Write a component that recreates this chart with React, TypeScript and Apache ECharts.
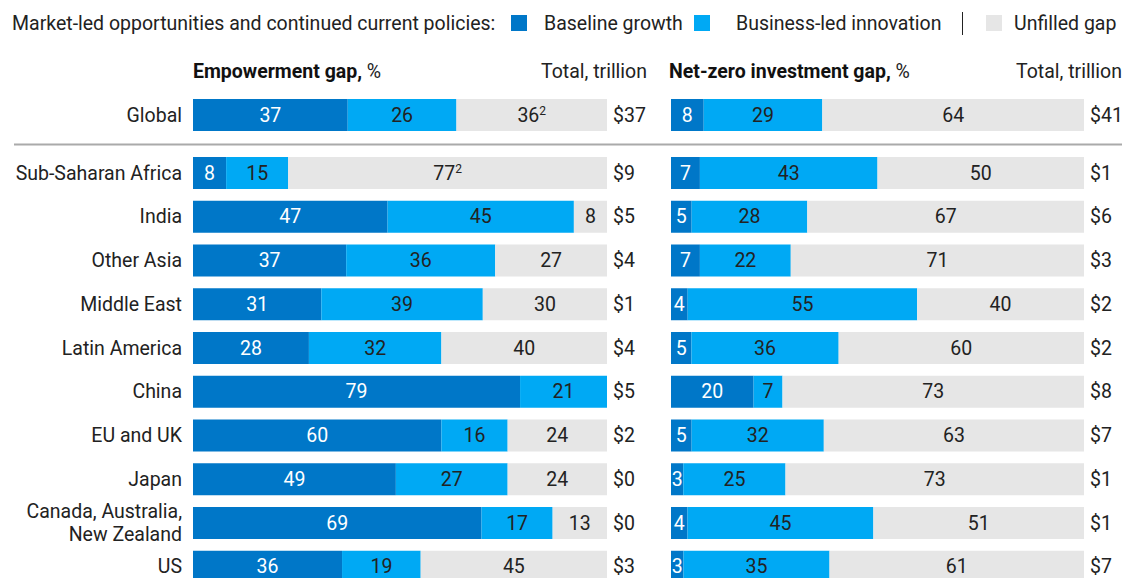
import React, { useEffect, useRef } from "react";
import * as echarts from "echarts";

const regions = [
  "Sub-Saharan Africa",
  "India",
  "Other Asia",
  "Middle East",
  "Latin America",
  "China",
  "EU and UK",
  "Japan",
  "Canada, Australia,\nNew Zealand",
  "US",
];
const globalLabel = ["Global"];

const empBaseline = [8, 47, 37, 31, 28, 79, 60, 49, 69, 36];
const empBusiness = [15, 45, 36, 39, 32, 21, 16, 27, 17, 19];
const empGap = [77, 8, 27, 30, 40, 0, 24, 24, 13, 45];
const empTotals = ["$9", "$5", "$4", "$1", "$4", "$5", "$2", "$0", "$0", "$3"];
const empGlobal = [37, 26, 36];
const empGlobalTotal = ["$37"];

const nzBaseline = [7, 5, 7, 4, 5, 20, 5, 3, 4, 3];
const nzBusiness = [43, 28, 22, 55, 36, 7, 32, 25, 45, 35];
const nzGap = [50, 67, 71, 40, 60, 73, 63, 73, 51, 61];
const nzTotals = ["$1", "$6", "$3", "$2", "$2", "$8", "$7", "$1", "$1", "$7"];
const nzGlobal = [8, 29, 64];
const nzGlobalTotal = ["$41"];

// footnote markers on unfilled-gap labels: key = "panel:row"
const footnotes: Record<string, string> = { "emp:global": "2", "emp:0": "2" };

const C_BASE = "#0077C8";
const C_BIZ = "#00A9F4";
const C_GAP = "#E6E6E6";
const FONT = "Roboto";
const FS = 19.5;
const TXT = "#222222";

export default function App() {
  const ref = useRef<HTMLDivElement>(null);
  useEffect(() => {
    if (!ref.current) return;
    document.body.style.margin = "0";
    const chart = echarts.init(ref.current, undefined, { renderer: "svg" });

    const rowH = 43.75;
    const regTop = 173 - rowH / 2;
    const regH = rowH * regions.length;
    const gTop = 115 - 20;
    const gH = 40;
    const leftX = 193;
    const leftW = 414;
    const rightX = 671;
    const rightW = 413;

    const grids = [
      { left: leftX, top: gTop, width: leftW, height: gH },
      { left: leftX, top: regTop, width: leftW, height: regH },
      { left: rightX, top: gTop, width: rightW, height: gH },
      { left: rightX, top: regTop, width: rightW, height: regH },
    ];

    const xAxes = grids.map((_, i) => ({
      type: "value",
      gridIndex: i,
      min: 0,
      max: 100,
      show: false,
    }));

    const catLabel = {
      fontFamily: FONT,
      fontSize: FS,
      color: TXT,
      lineHeight: 23,
    };

    const yAxes: any[] = [];
    const mkY = (gi: number, data: string[], showCats: boolean, totals: string[]) => {
      yAxes.push({
        type: "category",
        gridIndex: gi,
        data,
        inverse: true,
        axisLine: { show: false },
        axisTick: { show: false },
        splitLine: { show: false },
        axisLabel: { show: showCats, ...catLabel, margin: 11 },
      });
      yAxes.push({
        type: "category",
        gridIndex: gi,
        position: "right",
        data: totals,
        inverse: true,
        axisLine: { show: false },
        axisTick: { show: false },
        splitLine: { show: false },
        axisLabel: { show: true, ...catLabel, margin: 6 },
      });
    };
    mkY(0, globalLabel, true, empGlobalTotal);
    mkY(1, regions, true, empTotals);
    mkY(2, globalLabel, false, nzGlobalTotal);
    mkY(3, regions, false, nzTotals);

    const series: any[] = [];
    const addPanel = (
      panel: string,
      gi: number,
      yi: number,
      rows: number[][],
      isGlobal: boolean
    ) => {
      const cols = [C_BASE, C_BIZ, C_GAP];
      const names = ["Baseline growth", "Business-led innovation", "Unfilled gap"];
      for (let k = 0; k < 3; k++) {
        const data = rows.map((r) => {
          const s = r[0] + r[1] + r[2];
          return (r[k] / s) * 100;
        });
        series.push({
          type: "bar",
          name: names[k],
          xAxisIndex: gi,
          yAxisIndex: yi,
          stack: panel + gi,
          barWidth: 32,
          data,
          itemStyle: { color: cols[k] },
          label: {
            show: true,
            position: "inside",
            fontFamily: FONT,
            fontSize: FS,
            color: k === 0 ? "#ffffff" : TXT,
            formatter: (p: any) => {
              const v = rows[p.dataIndex][k];
              if (!v) return "";
              const key = panel + ":" + (isGlobal ? "global" : p.dataIndex);
              if (k === 2 && footnotes[key]) return "{n|" + v + "}{s|" + footnotes[key] + "}";
              return String(v);
            },
            rich: {
              n: { fontFamily: FONT, fontSize: FS, color: TXT },
              s: { fontFamily: FONT, fontSize: 12, color: TXT, verticalAlign: "top", padding: [0, 0, 9, 0] },
            },
          },
        });
      }
    };
    const zipRows = (a: number[], b: number[], c: number[]) => a.map((v, i) => [v, b[i], c[i]]);
    addPanel("emp", 0, 0, [empGlobal], true);
    addPanel("emp", 1, 2, zipRows(empBaseline, empBusiness, empGap), false);
    addPanel("nz", 2, 4, [nzGlobal], true);
    addPanel("nz", 3, 6, zipRows(nzBaseline, nzBusiness, nzGap), false);

    const legendY = 23;
    const headY = 71;
    const txt = (x: number, y: number, text: string, align = "left", extra: any = {}) => ({
      type: "text",
      x,
      y,
      style: { text, fontFamily: FONT, fontSize: FS, fill: TXT, align, verticalAlign: "middle", ...extra },
    });
    const graphic: any[] = [
      txt(12, legendY, "Market-led opportunities and continued current policies:"),
      { type: "rect", shape: { x: 511, y: legendY - 8, width: 16, height: 16 }, style: { fill: C_BASE } },
      txt(544, legendY, "Baseline growth"),
      { type: "rect", shape: { x: 694, y: legendY - 8, width: 16, height: 16 }, style: { fill: C_BIZ } },
      txt(736, legendY, "Business-led innovation"),
      { type: "line", shape: { x1: 962.5, y1: 12, x2: 962.5, y2: 35 }, style: { stroke: TXT, lineWidth: 1 } },
      { type: "rect", shape: { x: 986, y: legendY - 8, width: 16, height: 16 }, style: { fill: C_GAP } },
      txt(1014, legendY, "Unfilled gap"),
      txt(193, headY, "{b|Empowerment gap,} {r|%}", "left", {
        rich: {
          b: { fontFamily: FONT, fontSize: FS, fontWeight: "bold", fill: "#111" },
          r: { fontFamily: FONT, fontSize: FS, fill: TXT },
        },
      }),
      txt(647, headY, "Total, trillion", "right"),
      txt(669, headY, "{b|Net-zero investment gap,} {r|%}", "left", {
        rich: {
          b: { fontFamily: FONT, fontSize: FS, fontWeight: "bold", fill: "#111" },
          r: { fontFamily: FONT, fontSize: FS, fill: TXT },
        },
      }),
      txt(1122, headY, "Total, trillion", "right"),
      { type: "line", shape: { x1: 14, y1: 144.5, x2: 1122, y2: 144.5 }, style: { stroke: "#aaaaaa", lineWidth: 2 } },
    ];

    chart.setOption({
      animation: false,
      backgroundColor: "#ffffff",
      grid: grids,
      xAxis: xAxes,
      yAxis: yAxes,
      series,
      graphic,
    });
    return () => chart.dispose();
  }, []);

  return (
    <div style={{ position: "absolute", left: 0, top: 0, width: 1131, height: 578, overflow: "hidden" }}>
      <div ref={ref} style={{ width: 1131, height: 600 }} />
    </div>
  );
}
